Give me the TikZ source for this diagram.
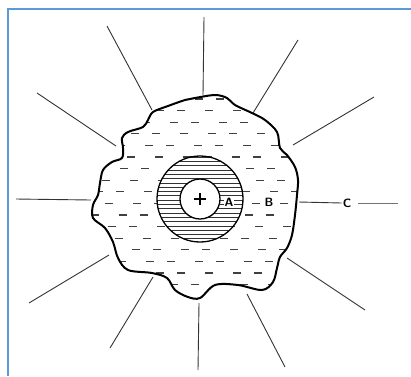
\documentclass[tikz,border=0pt]{standalone}
\usepackage{tikz}
\definecolor{frameblue}{HTML}{5B9BD5}
\tikzset{
  ray/.style={draw=black!80, line width=0.9pt},
  blobdash/.style={draw=black!75, line width=1.2pt},
  hatch/.style={draw=black!80, line width=0.6pt},
  lab/.style={font=\sffamily\large\bfseries, inner sep=1pt}
}
\begin{document}
\begin{tikzpicture}[x=1pt, y=-1pt]
\useasboundingbox (0,0) rectangle (411,376);
\def\blob{plot[smooth cycle, tension=0.55] coordinates {(195,98) (215,95) (227,98) (235,105) (252,113) (265,120) (277,132) (280,148) (287,155) (295,167) (298,180) (297,195) (295,215) (292,235) (287,248) (280,257) (277,268) (273,282) (262,290) (238,285) (215,285) (200,298) (188,297) (175,290) (167,278) (152,273) (128,270) (118,258) (113,242) (105,228) (93,218) (93,205) (98,195) (100,183) (103,170) (112,162) (122,158) (123,148) (122,138) (128,132) (143,127) (148,120) (153,112) (168,106) (185,100)}}
% frame
\draw[frameblue, line width=2pt] (411,9) -- (8,9) -- (8,376);
% rays
\draw[ray] (204,17) -- (203,95);
\draw[ray] (107,26) -- (152,110);
\draw[ray] (298,40) -- (253,113);
\draw[ray] (37,93) -- (116,146);
\draw[ray] (374,97) -- (293,145);
\draw[ray] (16,199) -- (91,200);
\draw[ray] (29,303) -- (109,255);
\draw[ray] (287,258) -- (365,310);
\draw[ray] (110,348) -- (153,277);
\draw[ray] (199,303) -- (198,370);
\draw[ray] (247,294) -- (285,367);
% dashed region
\begin{scope}
\clip \blob;
\foreach \r in {0,...,16}{
  \foreach \c in {0,...,8}{
    \pgfmathsetmacro\xx{90+\c*25+mod(\r,2)*12+mod(\r*5+\c*3,7)}
    \pgfmathsetmacro\yy{99+\r*11.6}
    \draw[blobdash] (\xx,\yy) -- ++(8,0);
  }
}
\end{scope}
% hatched ring
\begin{scope}
\clip (200,199) circle (43);
\fill[white] (200,199) circle (43);
\foreach \k in {0,...,20}
  \draw[hatch] (155,157+\k*4.3) -- (245,157+\k*4.3);
\end{scope}
\draw[line width=1.3pt, fill=white] (200,199) circle (20);
\draw[line width=1.3pt] (200,199) circle (43);
\draw[line width=1.5pt] (194,199) -- (206,199) (200,193) -- (200,205);
\draw[line width=2pt] \blob;
% labels
\node[lab, fill=white] (labA) at (229,202) {A};
\node[lab, fill=white] (labB) at (269,202) {B};
\node[lab] (labC) at (347,203) {C};
\coordinate (edgeC) at (299,202);
\coordinate (endC) at (398,203);
\draw[ray] (edgeC) -- (labC.west);
\draw[ray, draw=black!55, line width=0.8pt] (labC.east) ++(6,0) -- (endC);
\end{tikzpicture}
\end{document}
